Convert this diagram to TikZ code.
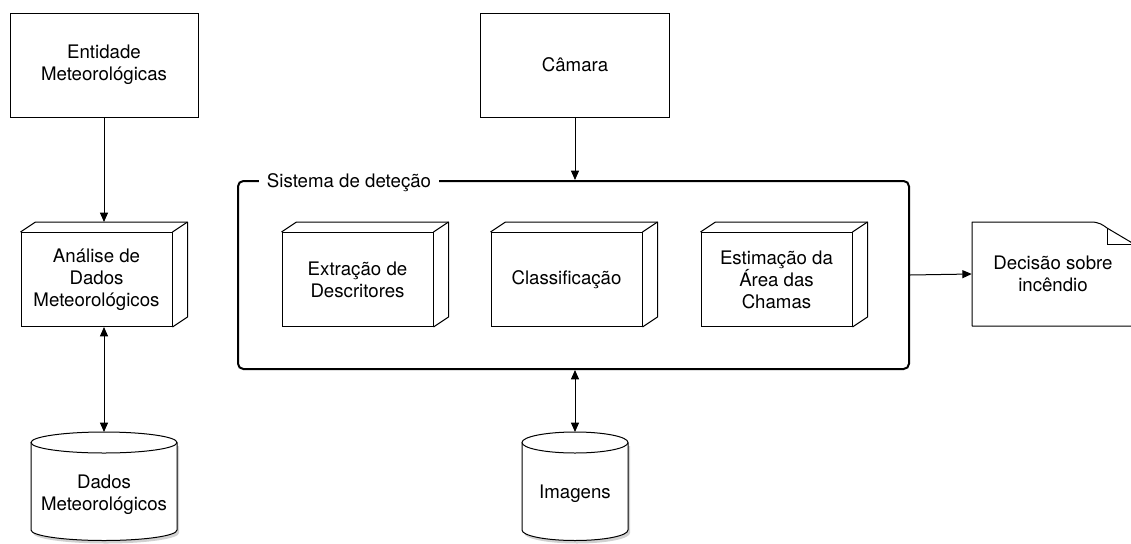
\documentclass[tikz,border=0pt]{standalone}
\usepackage{fontspec}
\setmainfont{TeX Gyre Heros}
\usetikzlibrary{arrows.meta,calc}
\begin{document}
\begin{tikzpicture}[x=0.75pt,y=-0.75pt,
  lbl/.style={font=\fontsize{14}{16.4}\selectfont, align=center, inner sep=0pt},
  plainbox/.style={draw, line width=0.75pt, lbl, minimum width=141pt, minimum height=78pt},
  cubeface/.style={draw, line width=0.75pt, fill=white, lbl, minimum width=113.25pt, minimum height=70.5pt},
  sysbox/.style={draw, line width=1.5pt, rounded corners=4pt, minimum width=503.25pt, minimum height=141pt, inner sep=0pt},
  conn/.style={line width=0.75pt, -{Triangle[length=7pt,width=6pt]}},
  dconn/.style={line width=0.75pt, {Triangle[length=7pt,width=6pt]}-{Triangle[length=7pt,width=6pt]}},
  outline/.style={draw, line width=0.75pt, fill=white},
  shadowfill/.style={fill=black, opacity=0.18}
]
\useasboundingbox (0,0) rectangle (1131,543);

% top boxes
\node[plainbox] (ent) at (104,65) {Entidade\\Meteorológicas};
\node[plainbox, minimum width=141.75pt] (cam) at (575,65) {Câmara};

% system box
\node[sysbox] (sys) at (573.5,275) {};
\node[lbl, fill=white, inner xsep=6pt, anchor=base] (syslbl) at (349,187) {Sistema de deteção};

% cubes
\foreach \nm/\cx/\txt in {ana/96.5/{Análise de\\Dados\\Meteorológicos},
                          ext/357.5/{Extração de\\Descritores},
                          cla/566.5/{Classificação},
                          est/776.5/{Estimação da\\Área das\\Chamas}}{
  \node[cubeface] (\nm) at (\cx,279.5) {\txt};
  \draw[line width=0.75pt, line join=round]
    (\nm.north west) -- ++(15,-10) -- ($(\nm.north east)+(15,-10)$)
    -- ($(\nm.south east)+(15,-10)$) -- (\nm.south east);
  \draw[line width=0.75pt] (\nm.north east) -- ++(15,-10);
}

% cylinders
\fill[shadowfill] (33,446) -- (33,533) arc[start angle=180,end angle=360,x radius=54.75pt,y radius=7.875pt] -- (179,446) -- cycle;
\draw[outline] (31,442.5) -- (31,530) arc[start angle=180,end angle=360,x radius=54.75pt,y radius=7.875pt] -- (177,442.5);
\draw[outline] (104,442.5) ellipse [x radius=54.75pt, y radius=7.875pt];
\coordinate (dadostop) at (104,432);
\node[lbl] (dados) at (104,495) {Dados\\Meteorológicos};

\fill[shadowfill] (524,446) -- (524,533) arc[start angle=180,end angle=360,x radius=39.75pt,y radius=7.875pt] -- (630,446) -- cycle;
\draw[outline] (522,442.5) -- (522,530) arc[start angle=180,end angle=360,x radius=39.75pt,y radius=7.875pt] -- (628,442.5);
\draw[outline] (575,442.5) ellipse [x radius=39.75pt, y radius=7.875pt];
\coordinate (imgtop) at (575,432);
\node[lbl] (img) at (575,494) {Imagens};

% document
\node[lbl, minimum width=121.5pt, minimum height=78pt] (doc) at (1053,274) {Decisão sobre\\incêndio};
\draw[line width=0.75pt, line join=round] (972,222) -- (1091,222) .. controls (1099,222) and (1103,225) .. (1107,228)
  -- (1134,244) -- (1134,326) -- (972,326) -- cycle;
\draw[line width=0.75pt] (1107,228) -- (1107,244) -- (1134,244);

% connectors
\coordinate (anatop) at ($(ana.north)+(0,-10)$);
\draw[conn] (ent.south) -- (ent.south |- anatop);
\draw[dconn] (ana.south -| dadostop) -- (dadostop);
\draw[conn] (cam.south) -- (cam.south |- sys.north);
\draw[conn] (sys.east) -- (doc.west);
\draw[dconn] (sys.south -| imgtop) -- (imgtop);
\end{tikzpicture}
\end{document}
